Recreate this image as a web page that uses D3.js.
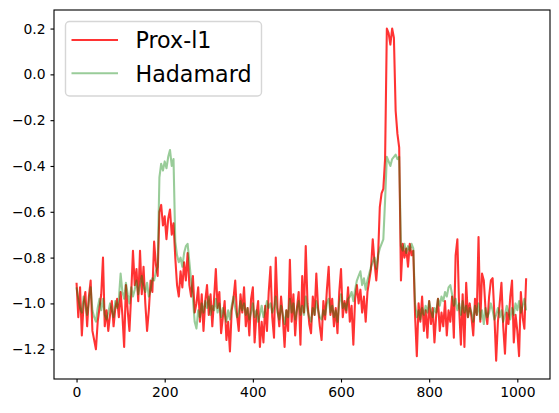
<!DOCTYPE html>
<html><head><meta charset="utf-8">
<script src="https://cdn.jsdelivr.net/npm/d3@7"></script>
<style>body{margin:0;background:#fff}svg{display:block}text{font-family:"DejaVu Sans",sans-serif}</style>
</head><body>
<svg id="chart" width="559" height="413"></svg>
<script>
// sample index step between stored values
const step = 4;
const proxL1 = [
-0.91,-1.06,-0.93,-1.14,-1.00,-0.95,-1.10,-0.97,-0.90,-1.12,-1.16,-1.20,-1.08,-1.02,-0.96,-0.80,
-1.10,-1.03,-1.12,-1.05,-0.99,-1.10,-1.02,-0.98,-1.06,-0.95,-1.05,-1.19,-0.92,-1.03,-1.12,-0.96,
-0.77,-0.92,-0.85,-0.99,-0.77,-0.96,-0.84,-1.00,-1.12,-1.03,-0.90,-0.95,-0.73,-0.83,-0.88,-0.60,
-0.57,-0.66,-0.62,-0.72,-0.63,-0.59,-0.70,-0.65,-0.80,-0.92,-0.97,-0.86,-0.93,-0.82,-0.90,-0.78,
-0.92,-0.97,-0.88,-1.04,-1.00,-0.93,-1.08,-0.96,-1.12,-0.99,-0.92,-1.05,-0.96,-1.10,-0.98,-0.85,
-1.02,-0.95,-1.13,-1.06,-0.99,-1.16,-1.08,-1.21,-1.03,-0.98,-0.90,-1.05,-1.12,-0.96,-1.04,-0.93,
-1.10,-1.02,-1.14,-0.98,-0.93,-1.17,-1.05,-0.99,-1.19,-1.08,-1.17,-1.01,-1.12,-0.95,-0.84,-1.06,
-1.15,-0.80,-1.02,-1.10,-0.97,-1.06,-1.19,-1.03,-1.12,-0.81,-1.08,-0.96,-1.14,-1.02,-0.95,-1.18,
-0.88,-1.04,-0.75,-1.00,-1.09,-1.13,-0.97,-1.05,-0.87,-1.02,-1.10,-1.16,-0.99,-1.07,-0.94,-0.84,
-1.05,-0.98,-1.10,-1.02,-1.13,-0.95,-0.85,-1.06,-0.99,-1.04,-0.93,-1.08,-1.01,-1.18,-0.98,-0.92,
-1.00,-0.94,-1.04,-0.97,-1.08,-0.95,-0.90,-0.85,-0.72,-0.82,-0.90,-0.80,-0.58,-0.52,-0.50,-0.37,
0.20,0.18,0.13,0.20,0.16,-0.16,-0.26,-0.32,-0.90,-0.74,-0.80,-0.76,-0.84,-0.74,-0.79,-0.77,
-1.05,-1.23,-1.00,-1.08,-0.97,-1.12,-1.03,-1.15,-0.99,-1.09,-1.02,-1.17,-1.05,-0.98,-1.12,-1.04,
-1.10,-0.99,-1.14,-1.03,-1.08,-0.97,-1.15,-0.79,-0.72,-1.02,-1.18,-0.96,-1.19,-0.91,-1.06,-1.00,
-1.06,-1.14,-0.98,-1.05,-0.71,-1.08,-0.87,-0.90,-1.03,-1.09,-0.97,-0.90,-0.89,-1.05,-1.25,-1.08,
-1.00,-0.91,-1.10,-1.22,-1.04,-1.09,-0.97,-0.90,-1.17,-1.05,-1.12,-1.23,-0.95,-1.06,-1.11,-0.89
];
const hadamard = [
-0.93,-0.98,-1.02,-1.04,-0.97,-1.01,-1.05,-0.99,-0.93,-1.03,-1.06,-1.08,-1.02,-0.98,-1.03,-0.98,
-1.05,-1.07,-1.04,-1.00,-1.03,-1.06,-0.99,-1.02,-0.98,-0.87,-0.95,-0.98,-0.91,-0.96,-1.00,-0.93,
-0.97,-0.94,-0.90,-0.96,-0.92,-0.88,-0.93,-0.95,-0.91,-0.97,-0.94,-0.89,-0.90,-0.86,-0.84,-0.45,
-0.39,-0.42,-0.38,-0.41,-0.36,-0.33,-0.40,-0.37,-0.73,-0.79,-0.82,-0.80,-0.84,-0.78,-0.75,-0.74,
-0.82,-0.90,-0.98,-1.08,-1.11,-1.03,-1.06,-1.00,-1.04,-0.99,-1.02,-0.97,-1.05,-1.01,-1.03,-0.98,
-1.04,-1.00,-1.06,-1.02,-1.05,-1.08,-1.03,-1.07,-1.01,-0.97,-1.02,-1.06,-1.04,-0.99,-1.03,-1.00,
-1.05,-1.02,-1.07,-1.04,-1.00,-1.06,-1.03,-1.08,-1.05,-1.01,-1.06,-1.03,-0.99,-1.02,-1.00,-1.04,
-1.02,-0.97,-1.04,-1.07,-1.01,-1.05,-1.09,-1.03,-1.06,-0.98,-1.04,-1.00,-1.07,-1.03,-0.99,-1.05,
-1.01,-1.05,-0.97,-1.03,-1.06,-1.08,-1.02,-1.05,-0.99,-1.03,-1.06,-1.07,-1.03,-1.05,-1.00,-0.98,
-1.04,-1.01,-1.06,-1.03,-1.08,-1.00,-0.96,-1.02,-1.00,-1.03,-0.98,-0.97,-0.95,-0.99,-0.94,-0.90,
-0.88,-0.86,-0.92,-0.89,-0.94,-0.90,-0.87,-0.84,-0.82,-0.80,-0.85,-0.79,-0.76,-0.74,-0.72,-0.55,
-0.36,-0.38,-0.40,-0.37,-0.36,-0.35,-0.37,-0.36,-0.75,-0.77,-0.74,-0.78,-0.75,-0.77,-0.74,-0.76,
-1.00,-1.06,-1.03,-1.07,-1.02,-1.05,-1.01,-1.04,-0.99,-1.03,-1.06,-1.02,-1.04,-0.98,-1.01,-0.97,
-0.99,-0.95,-0.97,-0.93,-0.92,-0.96,-1.01,-0.98,-1.03,-1.00,-1.05,-0.99,-1.04,-1.01,-1.06,-1.02,
-1.04,-1.08,-1.01,-1.05,-1.00,-1.07,-1.03,-1.09,-1.02,-1.06,-1.04,-1.00,-1.03,-1.07,-1.05,-1.02,
-1.06,-1.03,-1.08,-1.05,-1.01,-1.04,-1.07,-1.02,-1.05,-1.00,-1.03,-0.99,-1.04,-1.01,-0.98,-1.03
];
const seriesNames = ["Prox-l1", "Hadamard"];
const seriesColors = ["#ff0000", "#008000"];
const seriesAlpha = [0.8, 0.4];
const xTicks = [0, 200, 400, 600, 800, 1000];
const yTicks = [0.2, 0.0, -0.2, -0.4, -0.6, -0.8, -1.0, -1.2];
const xLimits = [-51.15, 1074.15];
const yLimits = [-1.33, 0.281];

const svg = d3.select("#chart");
const L = 54, R = 550, T = 10, B = 379;
const x = d3.scaleLinear().domain(xLimits).range([L, R]);
const y = d3.scaleLinear().domain(yLimits).range([B, T]);
const lw = 1.5 * 100 / 72;

const line = d3.line().x((d, i) => x(i * step)).y(d => y(d));
[proxL1, hadamard].forEach((data, k) => {
  svg.append("path").datum(data)
    .attr("d", line)
    .attr("fill", "none")
    .attr("stroke", seriesColors[k])
    .attr("stroke-opacity", seriesAlpha[k])
    .attr("stroke-width", lw)
    .attr("stroke-linejoin", "round");
});

const fmtY = v => (v < 0 ? "\u2212" : "") + Math.abs(v).toFixed(1);
const xAxis = d3.axisBottom(x).tickValues(xTicks).tickSize(3.5).tickPadding(4.9).tickFormat(d3.format("d"));
const yAxis = d3.axisLeft(y).tickValues(yTicks).tickSize(3.5).tickPadding(4.9).tickFormat(fmtY);
const gx = svg.append("g").attr("transform", `translate(0,${B})`).call(xAxis);
const gy = svg.append("g").attr("transform", `translate(${L},0)`).call(yAxis);
[gx, gy].forEach(g => {
  g.select(".domain").remove();
  g.selectAll(".tick line").attr("stroke", "#000").attr("stroke-width", 0.8 * 100 / 72);
  g.selectAll(".tick text").attr("fill", "#000").style("font-family", "DejaVu Sans").style("font-size", "13.9px");
});

// frame
svg.append("rect").attr("x", L).attr("y", T).attr("width", R - L).attr("height", B - T)
  .attr("fill", "none").attr("stroke", "#000").attr("stroke-width", 0.8 * 100 / 72);

// legend
const lg = svg.append("g");
lg.append("rect").attr("x", 65.5).attr("y", 21.5).attr("width", 196).attr("height", 74.5)
  .attr("rx", 4).attr("fill", "#fff").attr("fill-opacity", 0.8)
  .attr("stroke", "#cccccc").attr("stroke-opacity", 0.8).attr("stroke-width", 1.4);
seriesNames.forEach((name, k) => {
  const cy = 40 + k * 33.3;
  lg.append("line").attr("x1", 71.5).attr("x2", 118).attr("y1", cy).attr("y2", cy)
    .attr("stroke", seriesColors[k]).attr("stroke-opacity", seriesAlpha[k]).attr("stroke-width", lw);
  lg.append("text").attr("x", 135.5).attr("y", cy + 8.2).text(name)
    .style("font-size", "22.2px").attr("fill", "#000");
});
</script>
</body></html>
